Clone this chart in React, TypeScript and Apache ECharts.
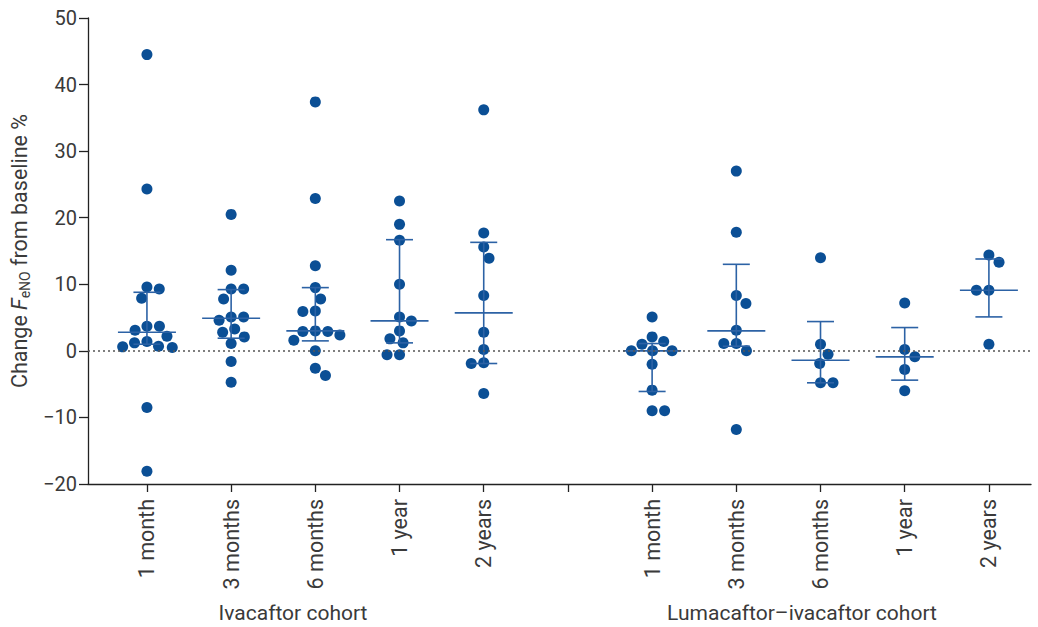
import React, { useEffect, useRef } from 'react';
import * as echarts from 'echarts';

// ---- Data ----
const timepoints = ['1 month', '3 months', '6 months', '1 year', '2 years'];
const cohortNames = ['Ivacaftor cohort', 'Lumacaftor\u2013ivacaftor cohort'];

// Ivacaftor cohort: individual changes in FeNO (%)
const iva1m = [44.5, 24.3, 9.6, 9.3, 7.9, 3.7, 3.1, 3.7, 2.2, 1.4, 1.2, 0.7, 0.5, 0.6, -8.5, -18.1];
const iva3m = [20.5, 12.1, 9.3, 9.3, 7.8, 5.1, 4.6, 5.1, 2.8, 3.3, 2.1, 1.1, -1.6, -4.7];
const iva6m = [37.4, 22.9, 12.8, 9.5, 7.8, 6.0, 5.9, 3.0, 2.9, 2.4, 1.6, 2.9, 0.0, -2.6, -3.7];
const iva1y = [22.5, 19.0, 16.6, 10.0, 4.5, 5.1, 3.0, 1.8, 1.2, -0.6, -0.6];
const iva2y = [36.2, 17.7, 15.6, 13.9, 8.3, 2.8, 0.2, -1.8, -1.9, -6.4];

// Lumacaftor-ivacaftor cohort
const luma1m = [5.1, 2.1, 1.4, 1.0, 0.0, 0.0, 0.0, -2.0, -5.9, -9.0, -9.0];
const luma3m = [27.0, 17.8, 8.3, 7.1, 3.1, 1.1, 1.1, 0.0, -11.8];
const luma6m = [14.0, 1.0, -0.5, -1.9, -4.8, -4.8];
const luma1y = [7.2, 0.2, -0.9, -2.8, -6.0];
const luma2y = [14.4, 13.3, 9.1, 9.1, 1.0];

// Median and interquartile range per timepoint
const ivaMedian = [2.8, 4.9, 3.0, 4.5, 5.7];
const ivaQ1 = [1.0, 1.9, 1.5, 1.2, -1.9];
const ivaQ3 = [8.8, 9.2, 9.5, 16.7, 16.3];
const lumaMedian = [0.0, 3.0, -1.4, -0.9, 9.1];
const lumaQ1 = [-6.1, 0.7, -4.8, -4.4, 5.1];
const lumaQ3 = [1.1, 13.0, 4.4, 3.5, 13.8];

const yMin = -20;
const yMax = 50;
const yInterval = 10;

// ---- Layout / style ----
const W = 1038;
const H = 627;
const GRID = { left: 88, right: 7, top: 18, bottom: 143 };
const X_MIN = -0.7;
const X_MAX = 10.5;
const FONT = 'Roboto';
const TEXT = '#3a3a3a';
const DOT = '#0b4f95';
const LINE = '#2c62a5';
const AXIS = '#222222';

const ivaGroups = [iva1m, iva3m, iva6m, iva1y, iva2y];
const lumaGroups = [luma1m, luma3m, luma6m, luma1y, luma2y];
// slot index on the x axis: 0..4 ivacaftor, 5 gap, 6..10 lumacaftor
const slotLabels: Record<number, string> = {};
timepoints.forEach((t, i) => {
  slotLabels[i] = t;
  slotLabels[i + 6] = t;
});

const plotH = H - GRID.top - GRID.bottom;
const plotW = W - GRID.left - GRID.right;
const pxPerY = plotH / (yMax - yMin);
const pxPerX = plotW / (X_MAX - X_MIN);

// Beeswarm layout (pixel offsets), greedy placement avoiding overlaps
function swarm(values: number[], D: number): number[] {
  const order = values.map((_, i) => i).sort((a, b) => values[b] - values[a]);
  const placed: { x: number; y: number }[] = [];
  const out = new Array(values.length).fill(0);
  let side = 1;
  for (const idx of order) {
    const y = values[idx] * pxPerY;
    const iv: [number, number][] = [];
    for (const p of placed) {
      const dy = Math.abs(p.y - y);
      if (dy < D) {
        const w = Math.sqrt(D * D - dy * dy);
        iv.push([p.x - w, p.x + w]);
      }
    }
    const cands = [0];
    iv.forEach(([a, b]) => cands.push(a, b));
    const ok = cands.filter((c) => iv.every(([a, b]) => c <= a + 1e-6 || c >= b - 1e-6));
    ok.sort((a, b) => {
      const d = Math.abs(a) - Math.abs(b);
      if (Math.abs(d) > 0.5) return d;
      return Math.sign(b) * side - Math.sign(a) * side;
    });
    const x = ok[0];
    if (Math.abs(x) > 0.5) side = -Math.sign(x);
    placed.push({ x, y });
    out[idx] = x;
  }
  return out;
}

function buildPoints(): number[][] {
  const pts: number[][] = [];
  const add = (vals: number[], slot: number) => {
    const offs = swarm(vals, 12.5);
    vals.forEach((v, i) => pts.push([slot + offs[i] / pxPerX, v]));
  };
  ivaGroups.forEach((g, i) => add(g, i));
  lumaGroups.forEach((g, i) => add(g, i + 6));
  return pts;
}

function buildBars(): number[][] {
  const rows: number[][] = [];
  ivaMedian.forEach((m, i) => rows.push([i, m, ivaQ1[i], ivaQ3[i]]));
  lumaMedian.forEach((m, i) => rows.push([i + 6, m, lumaQ1[i], lumaQ3[i]]));
  return rows;
}

export default function App() {
  const ref = useRef<HTMLDivElement>(null);
  useEffect(() => {
    if (!ref.current) return;
    const chart = echarts.init(ref.current, undefined, { renderer: 'svg' });
    const option: any = {
      animation: false,
      backgroundColor: '#ffffff',
      grid: { ...GRID, containLabel: false, outerBoundsMode: 'none' },
      xAxis: {
        type: 'value',
        min: X_MIN,
        max: X_MAX,
        splitLine: { show: false },
        axisLine: { show: true, onZero: false, lineStyle: { color: AXIS, width: 1.3 } },
        axisTick: {
          show: true,
          length: 8,
          customValues: [0, 1, 2, 3, 4, 5, 6, 7, 8, 9, 10],
          lineStyle: { color: AXIS, width: 1.3 },
        },
        axisLabel: {
          show: true,
          customValues: [0, 1, 2, 3, 4, 6, 7, 8, 9, 10],
          formatter: (v: number) => slotLabels[Math.round(v)] || '',
          rotate: 90,
          margin: 15,
          fontFamily: FONT,
          fontSize: 21.5,
          fontWeight: 400,
          color: TEXT,
        },
      },
      yAxis: {
        type: 'value',
        min: yMin,
        max: yMax,
        interval: yInterval,
        splitLine: { show: false },
        axisLine: { show: true, onZero: false, lineStyle: { color: AXIS, width: 1.3 } },
        axisTick: { show: true, length: 9, lineStyle: { color: AXIS, width: 1.3 } },
        axisLabel: {
          margin: 11,
          fontFamily: FONT,
          fontSize: 20,
          fontWeight: 400,
          color: TEXT,
          formatter: (v: number) => String(v).replace('-', '\u2212'),
        },
        name: '{a|Change }{i|F}{s|eNO}{a| from baseline %}',
        nameLocation: 'middle',
        nameGap: 54,
        nameTextStyle: {
          rich: {
            a: { fontFamily: FONT, fontSize: 21.5, fontWeight: 400, color: TEXT, lineHeight: 26 },
            i: { fontFamily: FONT, fontSize: 21.5, fontWeight: 400, fontStyle: 'italic', color: TEXT, lineHeight: 26 },
            s: { fontFamily: FONT, fontSize: 14, fontWeight: 400, color: TEXT, lineHeight: 26, verticalAlign: 'bottom', padding: [7, 0, 0, 0] },
          },
        },
      },
      series: [
        {
          type: 'scatter',
          data: buildPoints(),
          symbol: 'circle',
          symbolSize: 11,
          itemStyle: { color: DOT, opacity: 1 },
          z: 3,
          markLine: {
            silent: true,
            symbol: ['none', 'none'],
            label: { show: false },
            lineStyle: { color: '#555555', type: [2, 3], width: 1.6 },
            data: [{ yAxis: 0 }],
          },
        },
        {
          type: 'custom',
          data: buildBars(),
          z: 4,
          renderItem: (params: any, api: any) => {
            const x = api.value(0);
            const pm = api.coord([x, api.value(1)]);
            const pl = api.coord([x, api.value(2)]);
            const ph = api.coord([x, api.value(3)]);
            const style = { stroke: LINE, lineWidth: 1.6, fill: 'none' };
            const cap = 13.5;
            const med = 29;
            return {
              type: 'group',
              children: [
                { type: 'line', shape: { x1: pl[0], y1: pl[1], x2: ph[0], y2: ph[1] }, style },
                { type: 'line', shape: { x1: ph[0] - cap, y1: ph[1], x2: ph[0] + cap, y2: ph[1] }, style },
                { type: 'line', shape: { x1: pl[0] - cap, y1: pl[1], x2: pl[0] + cap, y2: pl[1] }, style },
                { type: 'line', shape: { x1: pm[0] - med, y1: pm[1], x2: pm[0] + med, y2: pm[1] }, style },
              ],
            };
          },
        },
      ],
      graphic: [
        {
          type: 'text',
          x: 293,
          y: 613,
          style: {
            text: cohortNames[0],
            fontFamily: FONT,
            fontSize: 21,
            fontWeight: 400,
            fill: TEXT,
            textAlign: 'center',
            textVerticalAlign: 'middle',
          },
        },
        {
          type: 'text',
          x: 802,
          y: 613,
          style: {
            text: cohortNames[1],
            fontFamily: FONT,
            fontSize: 21,
            fontWeight: 400,
            fill: TEXT,
            textAlign: 'center',
            textVerticalAlign: 'middle',
          },
        },
      ],
    };
    chart.setOption(option);
    return () => chart.dispose();
  }, []);
  return (
    <div
      ref={ref}
      style={{ position: 'absolute', left: 0, top: 0, width: W, height: H, background: '#fff' }}
    />
  );
}
